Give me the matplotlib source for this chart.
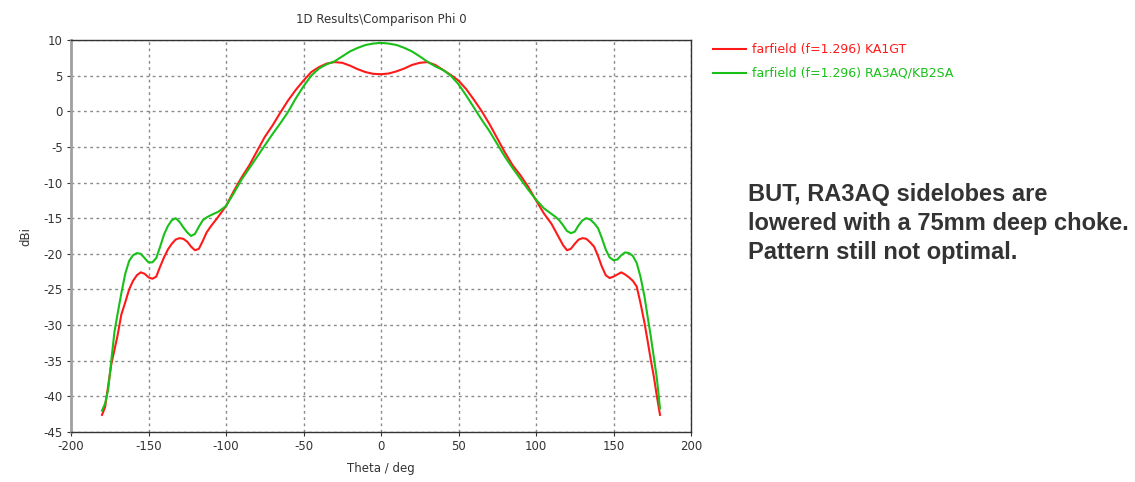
import matplotlib
matplotlib.use("Agg")
import matplotlib.pyplot as plt

plt.rcParams["axes.unicode_minus"] = False

theta = [-180, -178, -176, -174, -172, -170, -167.5, -165, -162.5, -160, -157.5, -155, -152.5, -150,
         -147.5, -145, -142.5, -140, -137.5, -135, -132.5, -130, -127.5, -125, -122.5, -120, -117.5,
         -115, -112.5, -110, -105, -100, -95, -90, -85, -80, -75, -70, -65, -60, -55, -50, -45, -40,
         -35, -30, -25, -20, -15, -10, -5, 0,
         5, 10, 15, 20, 25, 30, 35, 40, 45, 50, 55, 60, 65, 70, 75, 80, 85, 90, 95, 100, 105, 110,
         112.5, 115, 117.5, 120, 122.5, 125, 127.5, 130, 132.5, 135, 137.5, 140, 142.5, 145, 147.5,
         150, 152.5, 155, 157.5, 160, 162.5, 165, 167.5, 170, 172, 174, 176, 178, 180]

ka1gt = [-42.6, -41.5, -38.5, -35.5, -33.5, -31.5, -28.5, -26.8, -25.0, -23.8, -23.0, -22.6, -22.8, -23.3,
         -23.5, -23.2, -21.8, -20.5, -19.4, -18.6, -18.0, -17.8, -17.9, -18.3, -19.0, -19.5, -19.3,
         -18.2, -17.0, -16.2, -14.8, -13.3, -11.2, -9.3, -7.6, -5.6, -3.6, -2.0, -0.2, 1.5, 3.0, 4.3, 5.5, 6.2,
         6.7, 6.9, 6.8, 6.4, 5.9, 5.5, 5.25, 5.2,
         5.3, 5.6, 6.0, 6.5, 6.8, 6.9, 6.5, 5.8, 5.1, 4.3, 3.1, 1.6, 0.0, -1.8, -3.8, -5.8, -7.6, -9.0, -10.6, -12.5, -14.3, -15.8,
         -16.8, -17.8, -18.8, -19.5, -19.3, -18.6, -18.0, -17.8, -17.9, -18.4, -19.0, -20.3, -21.8, -23.0, -23.4,
         -23.2, -22.9, -22.6, -22.9, -23.3, -23.8, -24.6, -27.0, -29.7, -32.2, -34.8, -37.2, -40.0, -42.6]

ra3aq = [-42.0, -41.0, -39.0, -35.0, -31.0, -28.5, -25.5, -22.8, -21.0, -20.2, -19.9, -20.0, -20.6, -21.2,
         -21.2, -20.6, -19.0, -17.3, -16.1, -15.3, -15.0, -15.5, -16.3, -17.0, -17.5, -17.2, -16.2,
         -15.3, -14.9, -14.6, -14.1, -13.3, -11.5, -9.6, -8.0, -6.4, -4.8, -3.2, -1.7, -0.1, 1.8, 3.5, 5.0, 6.0,
         6.6, 7.0, 7.7, 8.4, 8.9, 9.3, 9.5, 9.6,
         9.5, 9.3, 8.9, 8.4, 7.7, 6.95, 6.3, 5.8, 5.0, 3.8, 2.2, 0.5, -1.2, -2.8, -4.6, -6.4, -8.0, -9.5, -11.0, -12.4, -13.6, -14.4,
         -14.8, -15.3, -16.0, -16.8, -17.1, -16.9, -16.0, -15.3, -15.0, -15.2, -15.7, -16.4, -17.8, -19.4, -20.5,
         -20.9, -20.8, -20.2, -19.8, -19.9, -20.3, -21.3, -23.3, -26.0, -28.8, -31.5, -34.5, -37.5, -41.7]

series_labels = ["farfield (f=1.296) KA1GT", "farfield (f=1.296) RA3AQ/KB2SA"]
xticks = [-200, -150, -100, -50, 0, 50, 100, 150, 200]
yticks = [10, 5, 0, -5, -10, -15, -20, -25, -30, -35, -40, -45]

RED = "#ff1a1a"
GREEN = "#18c018"

fig = plt.figure(figsize=(11.35, 4.82), dpi=100)
ax = fig.add_axes([71 / 1135, 1 - 432 / 482, 620 / 1135, 392 / 482])

ax.plot(theta, ka1gt, color=RED, lw=1.5, label=series_labels[0])
ax.plot(theta, ra3aq, color=GREEN, lw=1.5, label=series_labels[1])

ax.set_xlim(-200, 200)
ax.set_ylim(-45, 10)
ax.set_xticks(xticks)
ax.set_yticks(yticks)
ax.tick_params(labelsize=8.5, length=3, colors="#333333", pad=3)
ax.grid(True, color="#8a8a8a", linestyle=(0, (2, 2.5)), lw=1)

for s in ["top", "right", "bottom"]:
    ax.spines[s].set_color("#333333")
    ax.spines[s].set_linewidth(1)
ax.spines["left"].set_color("#a0a0a0")
ax.spines["left"].set_linewidth(2)

ax.set_title("1D Results\\Comparison Phi 0", fontsize=8.5, color="#333333", pad=12)
ax.set_xlabel("Theta / deg", fontsize=8.5, color="#333333", labelpad=6)
ax.set_ylabel("dBi", fontsize=8.5, color="#333333", labelpad=8)

fig.legend(loc="upper left", bbox_to_anchor=(702 / 1135, 1 - 32 / 482), frameon=False,
           fontsize=9, labelcolor="linecolor", handlelength=2.6, handletextpad=0.5,
           labelspacing=0.85)

fig.text(748 / 1135, 1 - 183 / 482,
         "BUT, RA3AQ sidelobes are\nlowered with a 75mm deep choke.\nPattern still not optimal.",
         fontsize=17, fontweight="bold", color="#333333", family="Liberation Sans",
         va="top", ha="left", linespacing=1.32)

fig.savefig("out.png", dpi=100)
